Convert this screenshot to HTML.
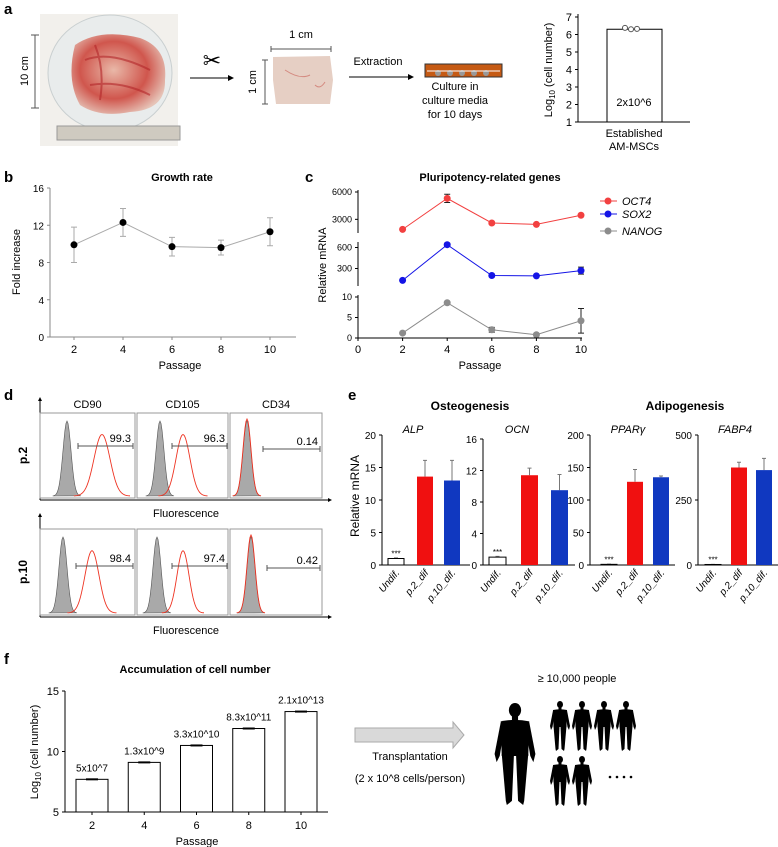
<!DOCTYPE html>
<html><head><meta charset="utf-8"><style>
body{margin:0;background:#fff;}
svg{display:block;font-family:"Liberation Sans",Arial,sans-serif;}
</style></head><body>
<svg id="fig" width="778" height="847" viewBox="0 0 778 847" xmlns="http://www.w3.org/2000/svg">
<defs>
<radialGradient id="tis" cx="0.45" cy="0.45" r="0.6"><stop offset="0" stop-color="#e9b8a8"/><stop offset="0.6" stop-color="#d0564d"/><stop offset="1" stop-color="#e6c4b8"/></radialGradient>
</defs>
<g font-weight="bold" font-size="15">
<text x="4" y="14">a</text><text x="4" y="182">b</text><text x="305" y="182">c</text><text x="4" y="400">d</text><text x="348" y="400">e</text><text x="4" y="664">f</text>
</g>
<g>
<rect x="40" y="14" width="138" height="132" fill="#f2f0ec"/>
<ellipse cx="110" cy="73" rx="62" ry="58" fill="#e9ecec" stroke="#c9cfd0"/>
<path d="M75 45 Q100 28 140 38 Q168 48 165 80 Q166 110 130 112 Q100 118 80 105 Q66 80 75 45Z" fill="url(#tis)"/>
<path d="M85 60 Q110 50 150 70 M90 85 Q120 80 150 95 M95 45 Q105 70 100 100" stroke="#b3262a" stroke-width="2" fill="none" opacity="0.6"/>
<rect x="57" y="126" width="123" height="14" fill="#cfcac0" stroke="#999"/>
</g>
<g stroke="#555">
<line x1="35" y1="35" x2="35" y2="108"/><line x1="31" y1="35" x2="39" y2="35"/><line x1="31" y1="108" x2="39" y2="108"/>
<text x="28" y="71" font-size="11" fill="#000" stroke="none" text-anchor="middle" transform="rotate(-90 28 71)">10 cm</text>
</g>
<g><line x1="190" y1="78" x2="230" y2="78" stroke="#000"/><path d="M234 78 l-6 -3 v6z"/>
<text x="212" y="68" font-size="22" text-anchor="middle">✂</text></g>
<g>
<path d="M273 57 L330 56 L333 80 L330 104 L276 104 L273 80Z" fill="#e6cfc4"/>
<path d="M285 70 Q300 80 310 75 M315 85 Q320 90 325 82" stroke="#d48a80" fill="none"/>
<line x1="271" y1="49" x2="331" y2="49" stroke="#555"/><line x1="271" y1="46" x2="271" y2="52" stroke="#555"/><line x1="331" y1="46" x2="331" y2="52" stroke="#555"/>
<text x="301" y="38" font-size="11" text-anchor="middle">1 cm</text>
<line x1="265" y1="60" x2="265" y2="104" stroke="#555"/><line x1="262" y1="60" x2="268" y2="60" stroke="#555"/><line x1="262" y1="104" x2="268" y2="104" stroke="#555"/>
<text x="256" y="82" font-size="11" text-anchor="middle" transform="rotate(-90 256 82)">1 cm</text>
</g>
<g><text x="378" y="65" font-size="11" text-anchor="middle">Extraction</text>
<line x1="349" y1="77" x2="409" y2="77" stroke="#000"/><path d="M414 77 l-6 -3 v6z"/></g>
<g>
<rect x="425" y="64" width="77" height="13" fill="#c55a14" stroke="#333"/>
<g fill="#999"><circle cx="438" cy="73" r="3"/><circle cx="450" cy="73" r="3"/><circle cx="462" cy="73" r="3"/><circle cx="474" cy="73" r="3"/><circle cx="486" cy="73" r="3"/></g>
<line x1="427" y1="71" x2="500" y2="71" stroke="#fff" stroke-width="1"/>
<text font-size="11" text-anchor="middle"><tspan x="455" y="90">Culture in</tspan><tspan x="455" y="104">culture media</tspan><tspan x="455" y="118">for 10 days</tspan></text>
</g>
<g id="chartA"></g>
<g id="chartB"></g>
<g id="chartC"></g>
<g id="panelD"></g>
<g id="chartE"></g>
<g id="chartF"></g>
<g>
<path d="M355 728 H453 V722 L464 735 L453 748 V742 H355Z" fill="#d9d9d9" stroke="#aaa"/>
<text x="410" y="760" font-size="11" text-anchor="middle">Transplantation</text>
<text x="410" y="782" font-size="11" text-anchor="middle">(2 x 10^8 cells/person)</text>
<text x="577" y="682" font-size="11" text-anchor="middle">≥ 10,000 people</text>
</g>
<g id="people"></g>
</svg>
<script>
const NS="http://www.w3.org/2000/svg";
function el(p,t,a,txt){const e=document.createElementNS(NS,t);for(const k in a)e.setAttribute(k,a[k]);if(txt!==undefined)e.textContent=txt;p.appendChild(e);return e;}
function lin(d0,d1,r0,r1){return v=>r0+(v-d0)/(d1-d0)*(r1-r0);}

// ---- panel a chart
const aCategories=["Established AM-MSCs"];
const aValues=[6.3];
const aPoints=[6.38,6.3,6.32];
const aTicks=[1,2,3,4,5,6,7];
(function(){const g=document.getElementById('chartA');const y=lin(1,7,122,17);
el(g,'line',{x1:578,y1:14,x2:578,y2:122,stroke:'#000'});el(g,'line',{x1:578,y1:122,x2:690,y2:122,stroke:'#000'});
aTicks.forEach(t=>{el(g,'line',{x1:575,y1:y(t),x2:578,y2:y(t),stroke:'#000'});const l=el(g,'text',{x:572,y:y(t)+4,'font-size':11,'text-anchor':'end'},t);

});
aValues.forEach((v,i)=>{const b=el(g,'rect',{x:607,y:y(v),width:55,height:122-y(v),fill:'#fff',stroke:'#000'});

});
aPoints.forEach((v,i)=>{el(g,'circle',{cx:625+i*6,cy:y(v),r:2.5,fill:'#fff',stroke:'#555'});});
el(g,'text',{x:634,y:106,'font-size':11,'text-anchor':'middle'},'2x10^6');
el(g,'text',{x:634,y:137,'font-size':11,'text-anchor':'middle'},'Established');
el(g,'text',{x:634,y:150,'font-size':11,'text-anchor':'middle'},'AM-MSCs');
const t=el(g,'text',{x:552,y:70,'font-size':11,'text-anchor':'middle',transform:'rotate(-90 552 70)'});t.innerHTML='Log<tspan font-size="8" dy="3">10</tspan><tspan dy="-3"> (cell number)</tspan>';

})();

// ---- panel b
const bPassages=[2,4,6,8,10];
const bValues=[9.9,12.3,9.7,9.6,11.3];
const bErrors=[1.9,1.5,1.0,0.8,1.5];
const bTicks=[0,4,8,12,16];
(function(){const g=document.getElementById('chartB');const x=lin(2,10,74,270),y=lin(0,16,337,188);
el(g,'text',{x:182,y:181,'font-size':11,'font-weight':'bold','text-anchor':'middle'},'Growth rate');
el(g,'line',{x1:50,y1:188,x2:50,y2:337,stroke:'#888'});el(g,'line',{x1:50,y1:337,x2:296,y2:337,stroke:'#888'});
bTicks.forEach(t=>{el(g,'line',{x1:47,y1:y(t),x2:50,y2:y(t),stroke:'#888'});el(g,'text',{x:44,y:y(t)+4,'font-size':10,'text-anchor':'end'},t);});
bPassages.forEach(p=>{el(g,'line',{x1:x(p),y1:337,x2:x(p),y2:340,stroke:'#888'});el(g,'text',{x:x(p),y:353,'font-size':11,'text-anchor':'middle'},p);});
el(g,'text',{x:180,y:369,'font-size':11,'text-anchor':'middle'},'Passage');
el(g,'text',{x:20,y:262,'font-size':11,'text-anchor':'middle',transform:'rotate(-90 20 262)'},'Fold increase');
el(g,'polyline',{points:bPassages.map((p,i)=>x(p)+','+y(bValues[i])).join(' '),fill:'none',stroke:'#aaa'});
bPassages.forEach((p,i)=>{const X=x(p),t=y(bValues[i]+bErrors[i]),b=y(bValues[i]-bErrors[i]);
el(g,'path',{d:`M${X} ${t}V${b}M${X-3} ${t}h6M${X-3} ${b}h6`,stroke:'#aaa',fill:'none'});
const c=el(g,'circle',{cx:X,cy:y(bValues[i]),r:3.5,fill:'#000'});

});})();

// ---- panel c
const cPassages=[2,4,6,8,10];
const oct4=[1900,5300,2600,2450,3450];const oct4Err=[0,450,0,0,0];
const sox2=[130,640,200,195,270];const sox2Err=[0,20,0,0,50];
const nanog=[1.2,8.6,2.0,0.8,4.2];const nanogErr=[0,0,0.6,0,3.0];
const cXTicks=[0,2,4,6,8,10];
(function(){const g=document.getElementById('chartC');const x=lin(0,10,358,581);
el(g,'text',{x:490,y:181,'font-size':11,'font-weight':'bold','text-anchor':'middle'},'Pluripotency-related genes');
const segs=[{d0:1500,d1:6000,r0:233,r1:192,ticks:[3000,6000],v:oct4,e:oct4Err,c:'#f24040',n:'OCT4'},
{d0:50,d1:650,r0:286,r1:244,ticks:[300,600],v:sox2,e:sox2Err,c:'#1414e6',n:'SOX2'},
{d0:0,d1:10,r0:338,r1:297,ticks:[0,5,10],v:nanog,e:nanogErr,c:'#8c8c8c',n:'NANOG'}];
segs.forEach(s=>{const y=lin(s.d0,s.d1,s.r0,s.r1);el(g,'line',{x1:358,y1:s.r1-2,x2:358,y2:s.r0,stroke:'#000'});
s.ticks.forEach(t=>{el(g,'line',{x1:355,y1:y(t),x2:358,y2:y(t),stroke:'#000'});el(g,'text',{x:352,y:y(t)+3,'font-size':9,'text-anchor':'end'},t);});
el(g,'polyline',{points:cPassages.map((p,i)=>x(p)+','+y(s.v[i])).join(' '),fill:'none',stroke:s.c});
cPassages.forEach((p,i)=>{if(s.e[i]){const t=y(s.v[i]+s.e[i]),b=y(s.v[i]-s.e[i]);el(g,'path',{d:`M${x(p)} ${t}V${b}M${x(p)-3} ${t}h6M${x(p)-3} ${b}h6`,stroke:'#222',fill:'none'});}
const c=el(g,'circle',{cx:x(p),cy:y(s.v[i]),r:3.5,fill:s.c});

});});
el(g,'line',{x1:358,y1:338,x2:582,y2:338,stroke:'#000'});
cXTicks.forEach(p=>{el(g,'line',{x1:x(p),y1:338,x2:x(p),y2:341,stroke:'#000'});el(g,'text',{x:x(p),y:353,'font-size':11,'text-anchor':'middle'},p);});
el(g,'text',{x:480,y:369,'font-size':11,'text-anchor':'middle'},'Passage');
el(g,'text',{x:326,y:265,'font-size':11,'text-anchor':'middle',transform:'rotate(-90 326 265)'},'Relative mRNA');
segs.forEach((s,i)=>{const Y=[201,214,231][i];const lg=el(g,'g',{});


el(lg,'line',{x1:600,y1:Y,x2:617,y2:Y,stroke:s.c});el(lg,'circle',{cx:608,cy:Y,r:3.5,fill:s.c});el(lg,'text',{x:622,y:Y+4,'font-size':11,'font-style':'italic'},s.n);});})();

// ---- panel d
const dMarkers=["CD90","CD105","CD34"];
const dP2=["99.3","96.3","0.14"];
const dP10=["98.4","97.4","0.42"];
(function(){const g=document.getElementById('panelD');
const boxes=[[40,135],[137,228],[230,322]];
const rows=[{t:413,b:498,vals:dP2,lab:'p.2',by:[446,446,449],bx:[[78,133],[172,227],[263,320]],fy:513,gray:[67,160,247],red:[[102,8],[183,7],[247,4]]},
{t:529,b:615,vals:dP10,lab:'p.10',by:[566,566,568],bx:[[76,133],[172,227],[267,320]],fy:630,gray:[63,157,251],red:[[92,7],[183,6],[251,4]]}];
rows.forEach((r,ri)=>{const t=r.t,b=r.b;
el(g,'line',{x1:40,y1:t-14,x2:40,y2:b+2,stroke:'#000'});el(g,'path',{d:`M38 ${t-12} l2 -4 l2 4z`});
el(g,'line',{x1:40,y1:b+2,x2:328,y2:b+2,stroke:'#000'});el(g,'path',{d:`M328 ${b} l4 2 l-4 2z`});
el(g,'text',{x:186,y:r.fy+4,'font-size':11,'text-anchor':'middle'},'Fluorescence');
el(g,'text',{x:27,y:(t+b)/2,'font-size':12,'font-weight':'bold','text-anchor':'middle',transform:`rotate(-90 27 ${(t+b)/2})`},r.lab);
boxes.forEach((bx,i)=>{const [x0,x1]=bx;el(g,'rect',{x:x0,y:t,width:x1-x0,height:b-t,fill:'#fff',stroke:'#999'});
const gx=r.gray[i];const H=b-t-10;let pg=`M${gx-14} ${b-2}`;for(let k=-14;k<=14;k++){pg+=` L${gx+k} ${b-2-H*Math.exp(-k*k/(2*16))}`;}pg+=`Z`;
const gp=el(g,'path',{d:pg,fill:'#a9a9a9',stroke:'#555','stroke-width':0.6});


const [rc,rs]=r.red[i];let pr=`M${rc-3.5*rs} ${b-2}`;const h=i==2?H+2:H*0.82;for(let k=-3.5*rs;k<=3.5*rs;k++){pr+=` L${rc+k} ${b-2-h*Math.exp(-k*k/(2*rs*rs))}`;}
const rp=el(g,'path',{d:pr,fill:'none',stroke:'#e32','stroke-width':0.9});


const [l0,l1]=r.bx[i],Y=r.by[i];el(g,'path',{d:`M${l0} ${Y}H${l1}M${l0} ${Y-3}v6M${l1} ${Y-3}v6`,stroke:'#555'});
el(g,'text',{x:l1-2,y:Y-4,'font-size':11,'text-anchor':'end'},r.vals[i]);
if(ri==0)el(g,'text',{x:(x0+x1)/2,y:408,'font-size':11,'text-anchor':'middle'},dMarkers[i]);});});})();

// ---- panel e
const eGenes=["ALP","OCN","PPARγ","FABP4"];
const eGroups=["Undif.","p.2_dif","p.10_dif."];
const eALP=[1,13.6,13.0];const eALPErr=[0.1,2.5,3.1];
const eOCN=[1,11.4,9.5];const eOCNErr=[0.1,0.9,2.0];
const ePPAR=[1,128,135];const ePPARErr=[0.3,19,2];
const eFABP4=[2,375,365];const eFABP4Err=[0.5,20,45];
const eTicks=[[0,5,10,15,20],[0,4,8,12,16],[0,50,100,150,200],[0,250,500]];
(function(){const g=document.getElementById('chartE');
el(g,'text',{x:470,y:410,'font-size':12,'font-weight':'bold','text-anchor':'middle'},'Osteogenesis');
el(g,'text',{x:685,y:410,'font-size':12,'font-weight':'bold','text-anchor':'middle'},'Adipogenesis');
el(g,'text',{x:359,y:496,'font-size':12,'text-anchor':'middle',transform:'rotate(-90 359 496)'},'Relative mRNA');
const vals=[eALP,eOCN,ePPAR,eFABP4],errs=[eALPErr,eOCNErr,ePPARErr,eFABP4Err];
const axX=[382,483,590,698],tops=[435,439,435,435],bars=[[388,417,444],[489,521,551],[601,627,653],[705,731,756]],bw=[16,17,16,16];
const ends=[470,575,675,778];
const cols=['#fff','#f01010','#1038c0'];
eGenes.forEach((gn,i)=>{const tk=eTicks[i];const y=lin(0,tk[tk.length-1],565,tops[i]);const X=axX[i];
el(g,'text',{x:[413,517,628,735][i],y:433,'font-size':11,'font-style':'italic','text-anchor':'middle'},gn);
el(g,'line',{x1:X,y1:tops[i],x2:X,y2:565,stroke:'#000'});el(g,'line',{x1:X,y1:565,x2:ends[i],y2:565,stroke:'#000'});
tk.forEach(t=>{el(g,'line',{x1:X-3,y1:y(t),x2:X,y2:y(t),stroke:'#000'});el(g,'text',{x:X-6,y:y(t)+4,'font-size':10,'text-anchor':'end'},t);});
vals[i].forEach((v,j)=>{const bx=bars[i][j],w=bw[i];const c=bx+w/2;const te=y(v+errs[i][j]);
el(g,'path',{d:`M${c} ${y(v)}V${te}M${c-2} ${te}h4`,stroke:'#777'});
const r=el(g,'rect',{x:bx,y:y(v),width:w,height:565-y(v),fill:cols[j],stroke:j?'none':'#000'});


if(j==0)el(g,'text',{x:c,y:y(v)-2,'font-size':8,'text-anchor':'middle'},'***');
el(g,'text',{x:c+4,y:573,'font-size':10,'font-style':'italic','text-anchor':'end',transform:`rotate(-50 ${c+4} 573)`},eGroups[j]);});});})();

// ---- panel f
const fPassages=[2,4,6,8,10];
const fValues=[7.7,9.1,10.5,11.9,13.3];
const fLabels=["5x10^7","1.3x10^9","3.3x10^10","8.3x10^11","2.1x10^13"];
const fTicks=[5,10,15];
(function(){const g=document.getElementById('chartF');const x=lin(2,10,92,301),y=lin(5,15,812,691);
el(g,'text',{x:195,y:673,'font-size':11,'font-weight':'bold','text-anchor':'middle'},'Accumulation of cell number');
el(g,'line',{x1:65,y1:691,x2:65,y2:812,stroke:'#000'});el(g,'line',{x1:65,y1:812,x2:328,y2:812,stroke:'#000'});
fTicks.forEach(t=>{el(g,'line',{x1:62,y1:y(t),x2:65,y2:y(t),stroke:'#000'});el(g,'text',{x:59,y:y(t)+4,'font-size':11,'text-anchor':'end'},t);});
fPassages.forEach((p,i)=>{const X=x(p);const r=el(g,'rect',{x:X-16,y:y(fValues[i]),width:32,height:812-y(fValues[i]),fill:'#fff',stroke:'#000'});


el(g,'line',{x1:X-6,y1:y(fValues[i]),x2:X+6,y2:y(fValues[i]),stroke:'#000','stroke-width':2});
el(g,'text',{x:X,y:y(fValues[i])-8,'font-size':10,'text-anchor':'middle'},fLabels[i]);
el(g,'line',{x1:X,y1:812,x2:X,y2:815,stroke:'#000'});el(g,'text',{x:X,y:829,'font-size':11,'text-anchor':'middle'},p);});
el(g,'text',{x:197,y:845,'font-size':11,'text-anchor':'middle'},'Passage');
const t=el(g,'text',{x:38,y:752,'font-size':11,'text-anchor':'middle',transform:'rotate(-90 38 752)'});t.innerHTML='Log<tspan font-size="8" dy="3">10</tspan><tspan dy="-3"> (cell number)</tspan>';})();

// ---- people
(function(){const g=document.getElementById('people');
function person(cx,top,h){const s=h/100;const p=el(g,'g',{transform:`translate(${cx},${top}) scale(${s})`,fill:'#000'});


el(p,'ellipse',{cx:0,cy:7,rx:6,ry:7});el(p,'rect',{x:-3,y:13,width:6,height:4});
el(p,'path',{d:'M-14 18 Q0 15 14 18 L13 52 L-13 52Z'});
el(p,'path',{d:'M-14 19 L-20 50 L-18 58 L-15 52 L-11 28Z'});el(p,'path',{d:'M14 19 L20 50 L18 58 L15 52 L11 28Z'});
el(p,'path',{d:'M-13 50 L-1 50 L-3 96 L-8 100 L-9 96Z'});el(p,'path',{d:'M13 50 L1 50 L3 96 L8 100 L9 96Z'});}
person(515,703,102);
[560,582,604,626].forEach(x=>person(x,701,50));
[560,582].forEach(x=>person(x,756,50));
[610,617,624,631].forEach(x=>el(g,'circle',{cx:x,cy:777,r:1.3,fill:'#000'}));})();
</script>
</body></html>
